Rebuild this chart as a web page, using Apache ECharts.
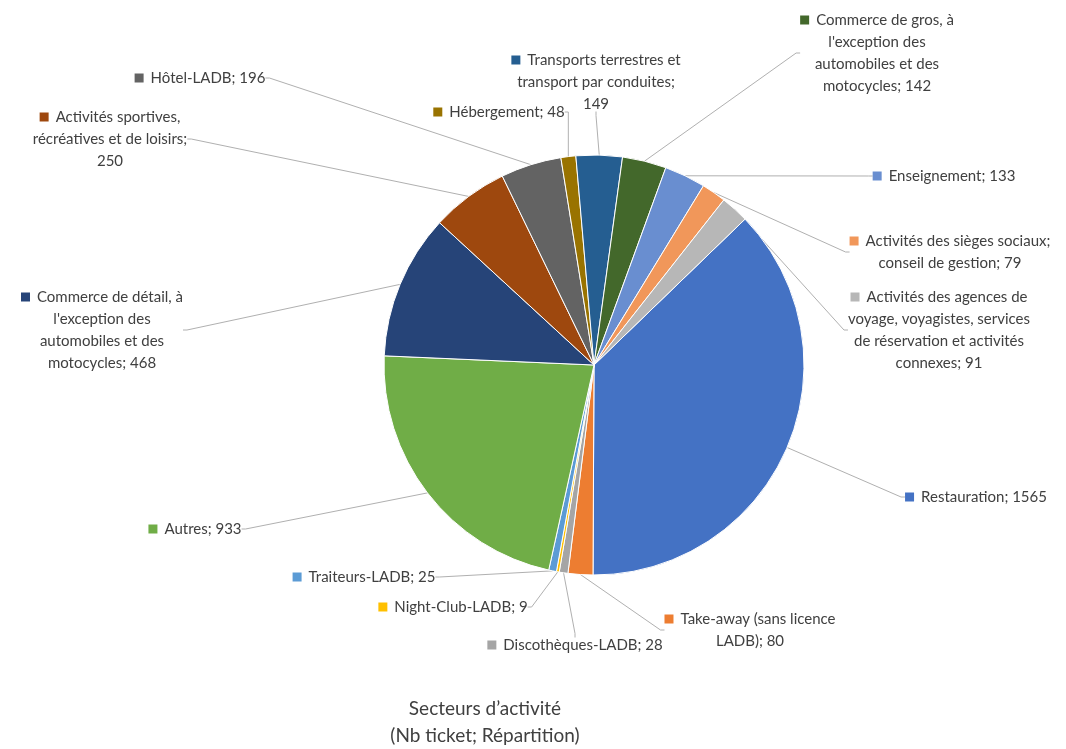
<!DOCTYPE html>
<html>
<head>
<meta charset="utf-8">
<script src="https://cdn.jsdelivr.net/npm/echarts@6/dist/echarts.min.js"></script>
<style>
  html, body { margin: 0; padding: 0; background: #ffffff; }
  #chart { width: 1066px; height: 749px; }
</style>
</head>
<body>
<div id="chart"></div>
<script>
// Sectors (label text, with its wrap points) and ticket counts
const categories = [
  'Restauration',
  'Take-away (sans licence\nLADB)',
  'Discothèques-LADB',
  'Night-Club-LADB',
  'Traiteurs-LADB',
  'Autres',
  "Commerce de détail, à\nl'exception des\nautomobiles et des\nmotocycles",
  'Activités sportives,\nrécréatives et de loisirs',
  'Hôtel-LADB',
  'Hébergement',
  'Transports terrestres et\ntransport par conduites',
  "Commerce de gros, à\nl'exception des\nautomobiles et des\nmotocycles",
  'Enseignement',
  'Activités des sièges sociaux;\nconseil de gestion',
  'Activités des agences de\nvoyage, voyagistes, services\nde réservation et activités\nconnexes'
];
const values = [1565, 80, 28, 9, 25, 933, 468, 250, 196, 48, 149, 142, 133, 79, 91];

// Office palette, in series order
const colors = [
  '#4472C4', '#ED7D31', '#A5A5A5', '#FFC000', '#5B9BD5', '#70AD47',
  '#264478', '#9E480E', '#636363', '#997300', '#255E91', '#43682B',
  '#698ED0', '#F1975A', '#B7B7B7'
];

// Labels whose value goes on its own line
const valueOnNewLine = [7, 10];

// Label block placement: [centre x, top y]
const labelPlaces = [
  [976, 486], [750, 608], [575, 634], [453, 596], [364, 566], [195, 518],
  [102, 286], [110, 106], [200, 67], [499, 101], [596, 49], [877, 9],
  [944, 165], [950, 230], [939, 286]
];

const rich = {
  g: { width: 7, height: 9 },
  t: { fontFamily: 'Lato', fontSize: 15, color: '#404040', lineHeight: 22 }
};
colors.forEach((c, i) => {
  rich['k' + i] = { width: 9, height: 9, backgroundColor: c };
});

const seriesData = categories.map((name, i) => ({
  name: name.replace(/\n/g, ' '),
  value: values[i],
  itemStyle: { color: colors[i] },
  label: {
    formatter: (p) => {
      const sep = valueOnNewLine.includes(i) ? ';\n' : '; ';
      const lines = (name + sep + p.value).split('\n');
      return lines.map((ln, k) => (k === 0 ? '{k' + i + '|}{g|}' : '') + '{t|' + ln + '}').join('\n');
    }
  }
}));

const chart = echarts.init(document.getElementById('chart'), null, { renderer: 'canvas' });
chart.setOption({
  backgroundColor: '#ffffff',
  animation: false,
  title: {
    text: 'Secteurs d’activité\n(Nb ticket; Répartition)',
    left: 480,
    top: 690,
    textAlign: 'center',
    textStyle: {
      fontFamily: 'Lato',
      fontSize: 19,
      fontWeight: 'normal',
      color: '#404040',
      lineHeight: 27
    }
  },
  series: [{
    type: 'pie',
    center: [594, 365],
    radius: 210,
    startAngle: 44,
    clockwise: true,
    avoidLabelOverlap: false,
    itemStyle: { borderColor: '#ffffff', borderWidth: 1 },
    label: {
      show: true,
      position: 'outside',
      align: 'center',
      rich: rich
    },
    labelLine: {
      show: true,
      length: 10,
      length2: 4,
      lineStyle: { color: '#b0b0b0', width: 1 }
    },
    labelLayout: (params) => {
      const p = labelPlaces[params.dataIndex];
      return { x: p[0], y: p[1], align: 'center', verticalAlign: 'top' };
    },
    data: seriesData
  }]
});
</script>
</body>
</html>
